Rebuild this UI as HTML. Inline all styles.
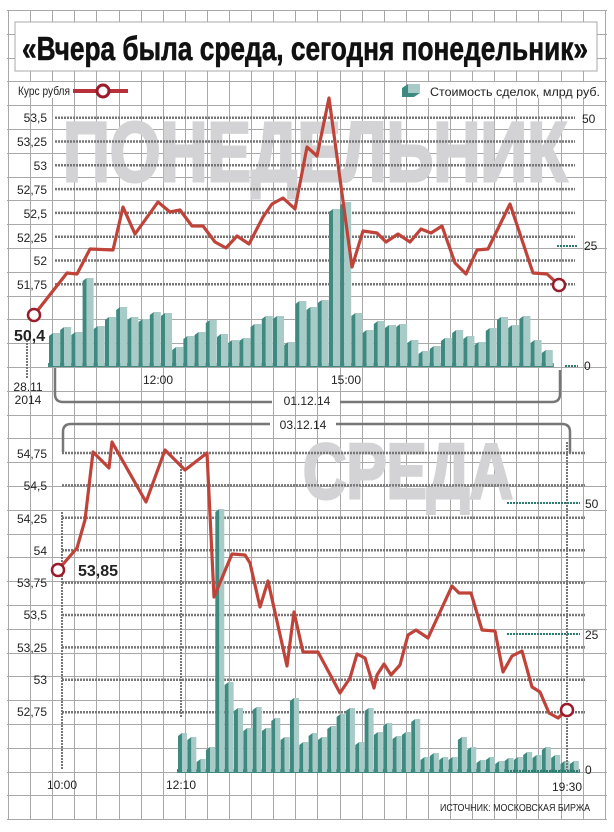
<!DOCTYPE html>
<html><head><meta charset="utf-8"><style>
html,body{margin:0;padding:0;background:#fff}
svg{display:block}
text{font-family:"Liberation Sans Narrow","Liberation Sans",sans-serif;fill:#222}
</style></head><body>
<svg id="s" width="614" height="832" viewBox="0 0 614 832" xmlns="http://www.w3.org/2000/svg">
<g id="grid" stroke="#a8a8a8" stroke-width="1"></g>
<rect x="15" y="22" width="582" height="49" fill="#fff" stroke="#a8a8a8"/>
<text x="22" y="60" font-size="33" font-weight="bold" textLength="566" lengthAdjust="spacingAndGlyphs" style="fill:#111;stroke:#111;stroke-width:0.6">«Вчера была среда, сегодня понедельник»</text>
<g><rect x="14" y="82" width="58" height="16" fill="#fff"/><rect x="426" y="82" width="176" height="16" fill="#fff"/></g>
<text x="18" y="95" font-size="12" textLength="52" lengthAdjust="spacingAndGlyphs">Курс рубля</text>
<line x1="73" y1="91" x2="128" y2="91" stroke="#b8303a" stroke-width="4"/>
<circle cx="103" cy="91" r="6" fill="#fff" stroke="#9b1b2a" stroke-width="3"/>
<polygon points="402,88 408,84 420,84 420,93 414,97 402,97" fill="#3f8a80"/>
<rect x="408" y="84" width="12" height="9" fill="#a9cbc7"/>
<text x="430" y="96" font-size="12" textLength="170" lengthAdjust="spacingAndGlyphs">Стоимость сделок, млрд руб.</text>

<text x="63" y="181" font-size="84" font-weight="bold" textLength="504" lengthAdjust="spacingAndGlyphs" style="fill:#d3d3d5;stroke:#d3d3d5;stroke-width:3">ПОНЕДЕЛЬНИК</text>
<text x="303" y="498" font-size="78" font-weight="bold" textLength="210" lengthAdjust="spacingAndGlyphs" style="fill:#d3d3d5;stroke:#d3d3d5;stroke-width:3">СРЕДА</text>

<g id="dots" stroke="#777" stroke-width="2.5" stroke-dasharray="2,1"></g>
<g id="bars"></g>

<g font-size="12" text-anchor="end">
<text x="47" y="122">53,5</text><text x="47" y="146">53,25</text><text x="47" y="170">53</text><text x="47" y="194">52,75</text><text x="47" y="218">52,5</text><text x="47" y="242">52,25</text><text x="47" y="265">52</text><text x="47" y="289">51,75</text>
<text x="47" y="458">54,75</text><text x="47" y="490">54,5</text><text x="47" y="523">54,25</text><text x="47" y="555">54</text><text x="47" y="587">53,75</text><text x="47" y="619">53,5</text><text x="47" y="652">53,25</text><text x="47" y="684">53</text><text x="47" y="716">52,75</text>
</g>
<g font-size="12">
<text x="582" y="123">50</text><text x="584" y="250">25</text><text x="584" y="370">0</text>
<text x="585" y="508">50</text><text x="585" y="639">25</text><text x="585" y="774">0</text>
<text x="158" y="384" text-anchor="middle">12:00</text><text x="346" y="384" text-anchor="middle">15:00</text>
<text x="28" y="391" text-anchor="middle">28.11</text><text x="28" y="404" text-anchor="middle">2014</text>
<text x="307" y="405" text-anchor="middle">01.12.14</text><text x="303" y="429" text-anchor="middle">03.12.14</text>
<text x="62" y="789" text-anchor="middle">10:00</text><text x="181" y="789" text-anchor="middle">12:10</text><text x="567" y="791" text-anchor="middle">19:30</text>
<text x="440" y="811" font-size="10.5" textLength="150" lengthAdjust="spacingAndGlyphs">ИСТОЧНИК: МОСКОВСКАЯ БИРЖА</text>
</g>
<text x="14" y="341" font-size="16" font-weight="bold" style="fill:#222">50,4</text>
<text x="78" y="576" font-size="16" font-weight="bold" style="fill:#222">53,85</text>

<g fill="none" stroke="#777" stroke-width="2.5">
<path d="M55,368 V394 Q55,402 63,402 H272"/>
<path d="M340,402 H552 Q560,402 560,394 V370"/>
<path d="M63,452 V432 Q63,424 71,424 H270"/>
<path d="M336,424 H562 Q570,424 570,432 V453"/>
</g>
<g fill="none" stroke="#777" stroke-width="2" stroke-dasharray="2,1">
<line x1="27" y1="340" x2="27" y2="378"/>
<line x1="62" y1="512" x2="62" y2="770"/>
<line x1="181" y1="457" x2="181" y2="718"/>
<line x1="567" y1="442" x2="567" y2="770"/>
</g>
<g fill="none" stroke="#2f7a70" stroke-width="2" stroke-dasharray="2,1">
<line x1="557" y1="246" x2="578" y2="246"/><line x1="565" y1="366" x2="578" y2="366"/>
<line x1="507" y1="503" x2="580" y2="503"/><line x1="507" y1="634" x2="580" y2="634"/><line x1="507" y1="771" x2="580" y2="771"/>
</g>

<polyline fill="none" stroke="#c0433a" stroke-width="3.2" stroke-linejoin="round" points="34,315 67,273 77,274 90,249 113,250 123,207 135,234 158,202 170,212 180,210 192,226 203,226 215,242 226,248 237,236 249,244 263,217 272,204 283,198 295,209 307,147 317,156 329,98 352,267 363,231 377,233 386,242 398,234 410,242 421,229 431,233 442,226 455,263 466,274 477,250 488,249 510,204 533,273 547,274 559,285"/>
<circle cx="34" cy="315" r="6" fill="#fff" stroke="#9b1b2a" stroke-width="2.5"/>
<circle cx="559" cy="285" r="6" fill="#fff" stroke="#9b1b2a" stroke-width="2.5"/>
<polyline fill="none" stroke="#c0433a" stroke-width="3.2" stroke-linejoin="round" points="58,570 77,548 85,520 93,452 109,468 112,442 146,502 165,450 185,470 207,453 214,597 232,554 245,555 250,563 260,607 268,581 287,666 294,612 303,652 318,652 340,693 350,678 357,654 365,658 374,688 377,675 384,664 391,675 400,665 408,635 416,630 428,638 452,586 459,593 471,593 482,630 495,631 503,672 512,656 522,651 532,687 540,692 549,713 558,718 567,710"/>
<circle cx="58" cy="570" r="6" fill="#fff" stroke="#9b1b2a" stroke-width="2.5"/>
<circle cx="567" cy="710" r="6" fill="#fff" stroke="#9b1b2a" stroke-width="2.5"/>
</svg>
<script>
var NS="http://www.w3.org/2000/svg";
function el(p,t,a){var e=document.createElementNS(NS,t);for(var k in a)e.setAttribute(k,a[k]);p.appendChild(e);return e;}
var g=document.getElementById('grid');
for(var i=0;i<=27;i++){var x=Math.round(8+22.1*i)+0.5;el(g,'line',{x1:x,y1:10,x2:x,y2:820});}
for(var j=0;j<=34;j++){var y=Math.round(10+23.8*j)+0.5;el(g,'line',{x1:7,y1:y,x2:607,y2:y});}
var d=document.getElementById('dots');
for(var k=0;k<8;k++){var y=117.7+23.8*k;el(d,'line',{x1:55,y1:y,x2:575,y2:y});}
for(var k=0;k<9;k++){var y=453+32.4*k;el(d,'line',{x1:62,y1:y,x2:585,y2:y});}
var b=document.getElementById('bars');
function bars(x0,step,w,base,tops){
 el(b,'rect',{x:x0-1,y:base-3,width:step*(tops.length-1)+w+2,height:4,fill:'#3f8a80'});
 tops.forEach(function(t,i){var x=x0+step*i;var dw=Math.round(w*0.4);
  el(b,'polygon',{points:(x)+','+(t+3)+' '+(x+dw)+','+t+' '+(x+dw)+','+base+' '+x+','+(base+1),fill:'#3f8a80'});
  el(b,'rect',{x:x+dw,y:t,width:w-dw,height:base-t,fill:'#a9cbc7'});});
}
bars(49,11.2,11,366,[333,327,332,278,326,317,307,317,319,312,313,347,336,332,320,334,340,338,324,316,316,342,301,307,300,209,202,313,330,321,325,324,340,351,346,338,330,336,342,328,317,325,316,340,350]);
bars(178,9.33,9,772,[733,737,759,747,509,682,708,728,707,728,718,737,698,742,733,737,726,714,708,742,708,732,723,736,732,719,757,753,757,757,737,747,760,757,761,758,757,752,755,747,755,761,761]);
</script>
</body></html>
